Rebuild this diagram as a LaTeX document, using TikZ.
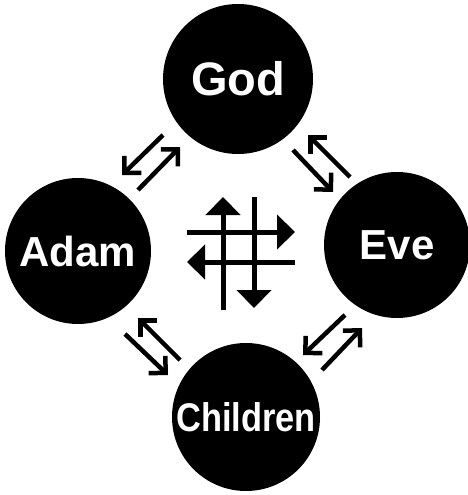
\documentclass[tikz,border=0pt]{standalone}
\usepackage{fontspec}
\setmainfont{Liberation Sans}
\usetikzlibrary{arrows.meta}
\begin{document}
\begin{tikzpicture}[x=1pt,y=-1pt,
  person/.style={circle,fill=black,text=white,inner sep=0pt,minimum size=#1},
  pairarrow/.style={line width=4.5pt,-{Straight Barb[angle=90:17pt,sharp]}},
  crossarrow/.style={line width=5pt,-{Triangle[width=34pt,length=18pt]}},
  crossline/.style={line width=5pt}]
\useasboundingbox (0,0) rectangle (468,495);
% people
\node[person=150pt,font=\fontsize{47}{47}\selectfont\bfseries] (god) at (238,79) {God};
\node[person=146pt,font=\fontsize{42}{42}\selectfont\bfseries] (adam) at (78,251) {Adam};
\node[person=146pt,font=\fontsize{42}{42}\selectfont\bfseries] (eve) at (397,245) {Eve};
\node[person=148pt,font=\fontsize{40}{40}\selectfont\bfseries] (children) at (246,417) {\scalebox{0.86}[1]{Children}};
% God - Adam
\coordinate (ga1s) at (163,135); \coordinate (ga1t) at (122,175);
\coordinate (ga2s) at (138,190); \coordinate (ga2t) at (180,147);
\draw[pairarrow] (ga1s) -- (ga1t);
\draw[pairarrow] (ga2s) -- (ga2t);
% God - Eve
\coordinate (ge1s) at (350,177); \coordinate (ge1t) at (308,135);
\coordinate (ge2s) at (293,150); \coordinate (ge2t) at (333,192);
\draw[pairarrow] (ge1s) -- (ge1t);
\draw[pairarrow] (ge2s) -- (ge2t);
% Adam - Children
\coordinate (ac1s) at (180,360); \coordinate (ac1t) at (138,318);
\coordinate (ac2s) at (125,334); \coordinate (ac2t) at (168,375);
\draw[pairarrow] (ac1s) -- (ac1t);
\draw[pairarrow] (ac2s) -- (ac2t);
% Eve - Children
\coordinate (ec1s) at (345,315); \coordinate (ec1t) at (303,355);
\coordinate (ec2s) at (322,370); \coordinate (ec2t) at (362,328);
\draw[pairarrow] (ec1s) -- (ec1t);
\draw[pairarrow] (ec2s) -- (ec2t);
% central cross
\coordinate (v1s) at (223,310); \coordinate (v1t) at (223,197);
\coordinate (v2s) at (254,197); \coordinate (v2t) at (254,308);
\coordinate (h1s) at (187,232); \coordinate (h1t) at (295,232);
\coordinate (h2s) at (295,262); \coordinate (h2t) at (187,262);
\draw[crossarrow] (v1s) -- (v1t);
\draw[crossarrow] (v2s) -- (v2t);
\draw[crossarrow] (h1s) -- (h1t);
\draw[crossarrow] (h2s) -- (h2t);
\end{tikzpicture}
\end{document}
